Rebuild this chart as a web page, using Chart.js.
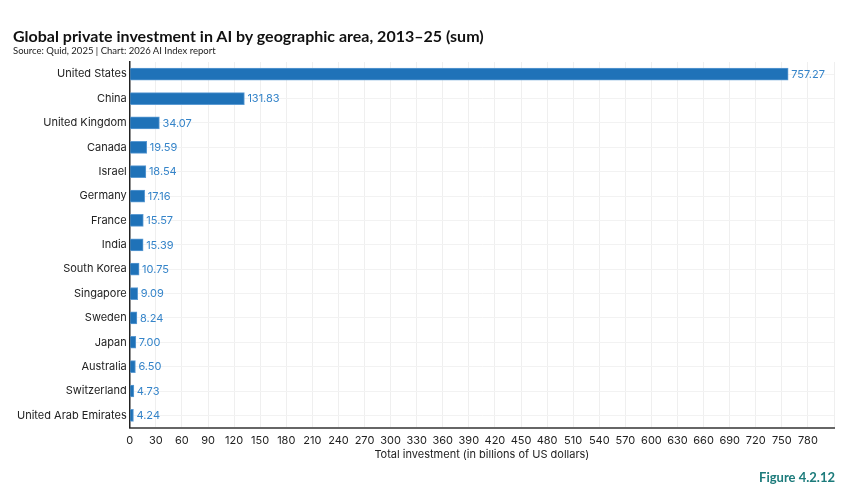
<!DOCTYPE html>
<html>
<head>
<meta charset="utf-8">
<script src="https://cdn.jsdelivr.net/npm/chart.js@4.4.0/dist/chart.umd.min.js"></script>
<style>
  html,body{margin:0;padding:0;background:#fff;}
  #wrap{position:relative;width:850px;height:495px;overflow:hidden;font-family:Lato, Inter, "Noto Sans", sans-serif;}
  #title{position:absolute;left:13px;top:26px;font-size:16px;font-weight:700;color:#111;white-space:nowrap;}
  #sub{position:absolute;left:13px;top:45px;font-size:9.5px;color:#222;white-space:nowrap;}
  #fig{position:absolute;right:15px;top:469px;font-size:13px;font-weight:700;color:#1c7b7b;white-space:nowrap;}
  canvas{position:absolute;left:0;top:0;}
</style>
</head>
<body>
<div id="wrap">
  <canvas id="c" width="850" height="495"></canvas>
  <div id="title">Global private investment in AI by geographic area, 2013–25 (sum)</div>
  <div id="sub">Source: Quid, 2025 | Chart: 2026 AI Index report</div>
  <div id="fig">Figure 4.2.12</div>
</div>
<script>
const categories = ["United States","China","United Kingdom","Canada","Israel","Germany","France","India","South Korea","Singapore","Sweden","Japan","Australia","Switzerland","United Arab Emirates"];
const investment = [757.27,131.83,34.07,19.59,18.54,17.16,15.57,15.39,10.75,9.09,8.24,7.00,6.50,4.73,4.24];
const xTickMax = 810;
const xTickStep = 30;

const valueLabels = {
  id: 'valueLabels',
  afterDatasetsDraw(chart) {
    const ctx = chart.ctx;
    const meta = chart.getDatasetMeta(0);
    ctx.save();
    ctx.font = '11px Inter, "Noto Sans", sans-serif';
    ctx.fillStyle = '#3584c9';
    ctx.textAlign = 'left';
    ctx.textBaseline = 'middle';
    meta.data.forEach((bar, i) => {
      ctx.fillText(investment[i].toFixed(2), bar.x + 3, bar.y + 0.5);
    });
    ctx.restore();
  }
};

new Chart(document.getElementById('c'), {
  type: 'bar',
  data: {
    labels: categories,
    datasets: [{
      data: investment,
      backgroundColor: '#1f72b8',
      borderColor: '#5c9bd3',
      borderWidth: 1,
      borderSkipped: 'left',
      barThickness: 12
    }]
  },
  options: {
    indexAxis: 'y',
    responsive: false,
    animation: false,
    layout: { padding: { top: 62, left: 14, right: 16, bottom: 34 } },
    plugins: { legend: { display: false }, tooltip: { enabled: false } },
    scales: {
      x: {
        min: 0, max: xTickMax,
        ticks: {
          stepSize: xTickStep,
          color: '#222',
          font: { family: 'Inter, "Noto Sans", sans-serif', size: 11 },
          padding: 6,
          maxRotation: 0,
          autoSkip: false,
          callback: (v) => v === xTickMax ? '' : v
        },
        grid: { color: '#efefef', drawTicks: false, lineWidth: 1 },
        border: { color: '#666', width: 2 },
        title: {
          display: true,
          text: 'Total investment (in billions of US dollars)',
          color: '#222',
          font: { family: 'Inter, "Noto Sans", sans-serif', size: 11 },
          padding: { top: -5, bottom: 0 }
        }
      },
      y: {
        ticks: {
          color: '#222',
          font: { family: 'Inter, "Noto Sans", sans-serif', size: 11 },
          padding: 3
        },
        grid: { color: '#f2f2f2', offset: false, drawTicks: false },
        border: { color: '#222', width: 1.5 }
      }
    }
  },
  plugins: [valueLabels]
});
</script>
</body>
</html>
